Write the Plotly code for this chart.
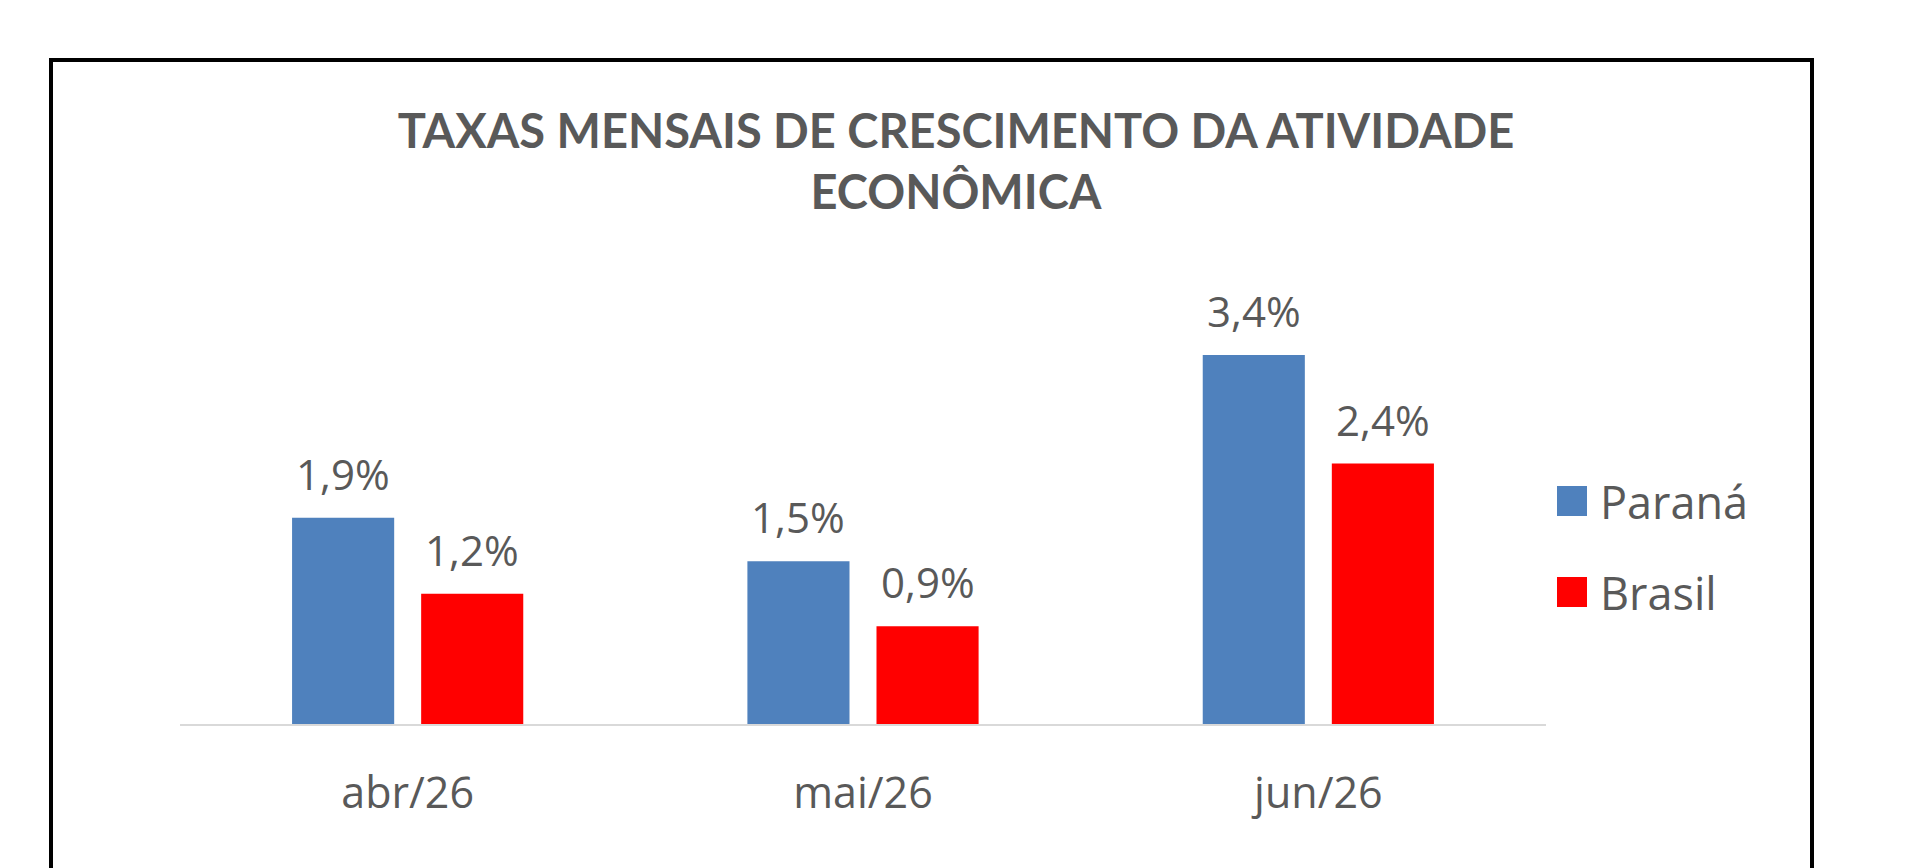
import plotly.graph_objects as go

# dados
categorias = ["abr/26", "mai/26", "jun/26"]
parana = [1.9, 1.5, 3.4]
brasil = [1.2, 0.9, 2.4]
series = ["Paraná", "Brasil"]
cores = ["#4f81bd", "#ff0000"]

W, H = 1910, 868
OFF = 8  # margem padrão do body da página
# área do gráfico em pixels da tela
L, R, T, B = 180, 1546, 230, 724
PX_POR_UNIDADE = 108.5
BARGAP, BARGROUPGAP = 0.433, 0.209
CINZA = "#595959"
FONTE = "Open Sans"


def px_x(px):
    return (px - L) / (R - L)


def px_y(py):
    return (B - py) / (B - T)


def rotulo(v):
    return f"{v:.1f}%".replace(".", ",")


fig = go.Figure()
for nome, valores, cor in zip(series, [parana, brasil], cores):
    fig.add_trace(go.Bar(
        x=categorias,
        y=valores,
        name=nome,
        marker_color=cor,
        marker_line_width=0,
        showlegend=False,
        hoverinfo="skip",
    ))

# rótulos de dados acima das barras
largura_cat = (R - L) / len(categorias)
desloc = largura_cat * (1 - BARGAP) / 4
anotacoes = []
for i, valores in enumerate([parana, brasil]):
    for cat, v in zip(categorias, valores):
        anotacoes.append(dict(
            x=cat, y=v, xref="x", yref="y",
            text=rotulo(v), showarrow=False,
            xshift=(i * 2 - 1) * desloc, yshift=14,
            yanchor="bottom",
            font=dict(family=FONTE, size=42, color=CINZA),
        ))

# legenda desenhada à direita
formas = []
leg_y = [501, 592]
for nome, cor, yc in zip(series, cores, leg_y):
    formas.append(dict(
        type="rect", xref="paper", yref="paper",
        x0=px_x(1557), x1=px_x(1587), y0=px_y(yc + 15), y1=px_y(yc - 15),
        fillcolor=cor, line_width=0,
    ))
    anotacoes.append(dict(
        x=px_x(1598), y=px_y(yc), xref="paper", yref="paper",
        text=nome, showarrow=False, xanchor="left", yanchor="middle",
        font=dict(family=FONTE, size=45, color=CINZA),
    ))

# moldura preta
formas.append(dict(
    type="rect", xref="paper", yref="paper",
    x0=px_x(51), x1=px_x(1812), y0=px_y(H + 20), y1=px_y(60),
    line=dict(color="black", width=4), fillcolor="rgba(0,0,0,0)",
    layer="below",
))

fig.update_layout(
    width=W, height=H,
    margin=dict(l=L - OFF, r=W - R + OFF, t=T - OFF, b=H - B + OFF, pad=0),
    paper_bgcolor="white",
    plot_bgcolor="white",
    bargap=BARGAP,
    bargroupgap=BARGROUPGAP,
    barmode="group",
    title=dict(
        text="TAXAS MENSAIS DE CRESCIMENTO DA ATIVIDADE<br>ECONÔMICA",
        x=(956 - OFF) / W, xanchor="center",
        y=1 - 140 / H, yanchor="middle",
        font=dict(family="Lato", size=47, color=CINZA, weight="bold"),
    ),
    xaxis=dict(
        showline=True, linecolor="#d9d9d9", linewidth=2,
        showgrid=False, ticks="", zeroline=False,
        ticklabelstandoff=30,
        tickfont=dict(family=FONTE, size=43, color=CINZA),
    ),
    yaxis=dict(
        range=[0, (B - T) / PX_POR_UNIDADE],
        visible=False, showgrid=False, zeroline=False,
    ),
    annotations=anotacoes,
    shapes=formas,
)

fig.write_html("out.html")
